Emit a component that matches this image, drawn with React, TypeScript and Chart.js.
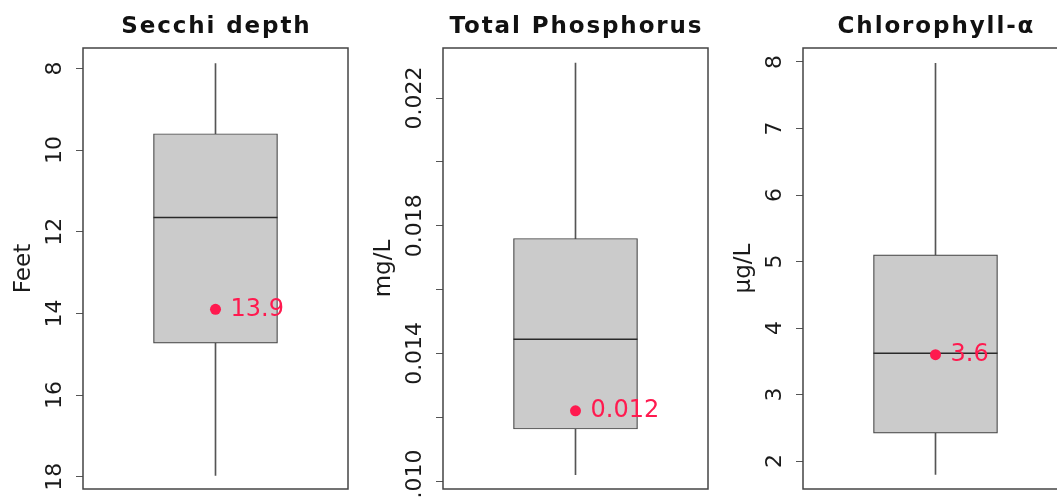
import React, { useEffect, useRef } from 'react';
import { Chart, registerables } from 'chart.js';

Chart.register(...registerables);

// ---- data ----
const titles = ['Secchi depth', 'Total Phosphorus', 'Chlorophyll-α'];
const units = ['Feet', 'mg/L', 'µg/L'];
const whiskerLow = [7.88, 0.0102, 1.8];
const whiskerHigh = [17.97, 0.0231, 7.98];
const boxLow = [9.6, 0.01163, 2.42];
const medians = [11.65, 0.01444, 3.62];
const boxHigh = [14.73, 0.0176, 5.1];
const currentValues = [13.9, 0.0122, 3.6];
const currentLabels = ['13.9', '0.012', '3.6'];
const axisMin = [7.5, 0.00975, 1.58];
const axisMax = [18.3, 0.02357, 8.21];
const axisReversed = [true, false, false];

const secchiTicks = [8, 10, 12, 14, 16, 18];
const secchiTickLabels = ['8', '10', '12', '14', '16', '18'];
const phosphorusTicks = [0.01, 0.012, 0.014, 0.016, 0.018, 0.02, 0.022];
const phosphorusTickLabels = ['0.010', '', '0.014', '', '0.018', '', '0.022'];
const chlorophyllTicks = [2, 3, 4, 5, 6, 7, 8];
const chlorophyllTickLabels = ['2', '3', '4', '5', '6', '7', '8'];

const tickSets = [secchiTicks, phosphorusTicks, chlorophyllTicks];
const tickLabelSets = [secchiTickLabels, phosphorusTickLabels, chlorophyllTickLabels];

// ---- styles ----
const RED = '#ff1a4f';
const BOX_FILL = '#cbcbcb';
const DARK = '#444444';
const TEXT = '#1a1a1a';
const PANEL_W = 360;
const PANEL_H = 499;

function drawRotated(ctx: CanvasRenderingContext2D, text: string, x: number, y: number, font: string) {
  ctx.save();
  ctx.translate(x, y);
  ctx.rotate(-Math.PI / 2);
  ctx.font = font;
  ctx.fillStyle = TEXT;
  ctx.textAlign = 'center';
  ctx.textBaseline = 'middle';
  ctx.fillText(text, 0, 0);
  ctx.restore();
}

function Panel({ index }: { index: number }) {
  const ref = useRef<HTMLCanvasElement>(null);

  useEffect(() => {
    const canvas = ref.current;
    if (!canvas) return;
    const tickValues = tickSets[index];
    const tickLabels = tickLabelSets[index];

    const decor = {
      id: 'panelDecor',
      afterDatasetDraw(chart: any, args: any) {
        if (args.index !== 1) return;
        const ctx = chart.ctx as CanvasRenderingContext2D;
        const bar: any = chart.getDatasetMeta(1).data[0];
        const y = chart.scales.y.getPixelForValue(medians[index]);
        const half = bar.width / 2;
        ctx.save();
        ctx.strokeStyle = '#2a2a2a';
        ctx.lineWidth = 1.5;
        ctx.beginPath();
        ctx.moveTo(bar.x - half, y);
        ctx.lineTo(bar.x + half, y);
        ctx.stroke();
        ctx.restore();
      },
      afterDatasetsDraw(chart: any) {
        const ctx = chart.ctx as CanvasRenderingContext2D;
        const pt: any = chart.getDatasetMeta(2).data[0];
        ctx.save();
        ctx.font = '24px "DejaVu Sans"';
        ctx.fillStyle = RED;
        ctx.textAlign = 'left';
        ctx.textBaseline = 'middle';
        ctx.fillText(currentLabels[index], pt.x + 15, pt.y);
        ctx.restore();
      },
      afterDraw(chart: any) {
        const ctx = chart.ctx as CanvasRenderingContext2D;
        const area = chart.chartArea;
        const yScale = chart.scales.y;
        // frame
        ctx.save();
        ctx.strokeStyle = DARK;
        ctx.lineWidth = 1.5;
        ctx.strokeRect(area.left, area.top, area.right - area.left, area.bottom - area.top);
        ctx.restore();
        // title
        ctx.save();
        const spacing = 1.9;
        ctx.font = 'bold 23px "DejaVu Sans"';
        (ctx as any).letterSpacing = spacing + 'px';
        ctx.fillStyle = '#111';
        ctx.textAlign = 'center';
        ctx.textBaseline = 'alphabetic';
        ctx.fillText(titles[index], (area.left + area.right) / 2 + spacing / 2, 33);
        ctx.restore();
        // tick labels
        tickValues.forEach((v, i) => {
          const label = tickLabels[i];
          if (!label) return;
          drawRotated(ctx, label, 55, yScale.getPixelForValue(v), '22px "DejaVu Sans"');
        });
        // axis title
        drawRotated(ctx, units[index], 24, (area.top + area.bottom) / 2, '23px "DejaVu Sans"');
      },
    };

    const chart = new Chart(canvas, {
      type: 'bar',
      data: {
        labels: [''],
        datasets: [
          {
            type: 'bar',
            data: [[whiskerLow[index], whiskerHigh[index]]] as any,
            backgroundColor: '#555555',
            barThickness: 1,
            grouped: false,
            order: 3,
          } as any,
          {
            type: 'bar',
            data: [[boxLow[index], boxHigh[index]]] as any,
            backgroundColor: BOX_FILL,
            borderColor: DARK,
            borderWidth: 1.2,
            borderSkipped: false,
            barThickness: 124,
            grouped: false,
            order: 2,
          } as any,
          {
            type: 'line',
            data: [currentValues[index]],
            showLine: false,
            pointRadius: 5.5,
            pointBackgroundColor: RED,
            pointBorderWidth: 0,
            order: 1,
          } as any,
        ],
      },
      options: {
        responsive: false,
        animation: false,
        devicePixelRatio: 1,
        layout: { padding: { left: 0, top: 48, right: 12, bottom: 10 } },
        plugins: {
          legend: { display: false },
          tooltip: { enabled: false },
          title: { display: false },
        },
        scales: {
          x: { display: false },
          y: {
            min: axisMin[index],
            max: axisMax[index],
            reverse: axisReversed[index],
            afterBuildTicks: (s: any) => {
              s.ticks = tickValues.map((v) => ({ value: v }));
            },
            afterFit: (s: any) => {
              s.width = 83;
            },
            ticks: { display: false },
            grid: {
              drawOnChartArea: false,
              drawTicks: true,
              tickLength: 7,
              color: '#555555',
              lineWidth: 1,
            },
            border: { display: false },
          },
        },
      } as any,
      plugins: [decor],
    });

    return () => chart.destroy();
  }, [index]);

  return (
    <div style={{ position: 'absolute', left: index * PANEL_W, top: 0, width: PANEL_W, height: PANEL_H }}>
      <canvas ref={ref} width={PANEL_W} height={PANEL_H} style={{ display: 'block' }} />
    </div>
  );
}

export default function App() {
  return (
    <div
      style={{
        position: 'fixed',
        left: 0,
        top: 0,
        width: 1057,
        height: 499,
        overflow: 'hidden',
        background: '#ffffff',
      }}
    >
      {titles.map((_, i) => (
        <Panel key={i} index={i} />
      ))}
    </div>
  );
}
